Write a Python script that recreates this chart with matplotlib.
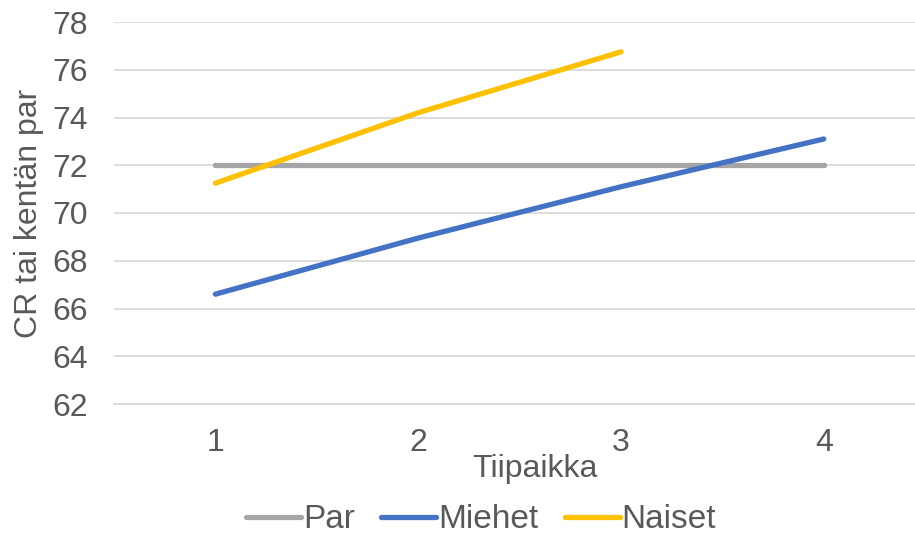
import numpy as np
import matplotlib.pyplot as plt

# Data
tee_positions = [1, 2, 3, 4]
par = [72, 72, 72, 72]
miehet = [66.6, 68.95, 71.1, 73.1]
naiset = [71.25, 74.2, 76.75]

# Style
text_color = '#595959'
plt.rcParams['font.family'] = ['Liberation Sans', 'DejaVu Sans']
plt.rcParams['font.size'] = 23

fig = plt.figure(figsize=(9.15, 5.35), dpi=100)
ax = fig.add_axes([114 / 915, 1 - 404 / 535, 1 - 114 / 915, (404 - 22) / 535])

lw = 3.8
ax.plot(tee_positions, par, color='#A5A5A5', lw=lw, solid_capstyle='round', label='Par', zorder=3)
ax.plot(tee_positions, miehet, color='#4472C4', lw=lw, solid_capstyle='round', label='Miehet', zorder=4)
ax.plot(tee_positions[:len(naiset)], naiset, color='#FFC000', lw=lw, solid_capstyle='round', label='Naiset', zorder=5)

ax.set_xlim(0.5, 4.45)
ax.set_ylim(62, 78)
ax.set_yticks(np.arange(62, 79, 2))
ax.set_xticks(tee_positions)

ax.grid(axis='y', color='#D9D9D9', lw=1.3)
ax.set_axisbelow(True)
for side in ['top', 'right', 'left']:
    ax.spines[side].set_visible(False)
ax.spines['bottom'].set_color('#D9D9D9')
ax.spines['bottom'].set_linewidth(1.3)

ax.tick_params(axis='both', length=0, colors=text_color)
ax.tick_params(axis='y', pad=19)
ax.tick_params(axis='x', pad=17)

ax.set_xlabel('Tiipaikka', color=text_color, labelpad=0)
ax.xaxis.set_label_coords(0.526, -0.13)
ax.set_ylabel('CR tai kentän par', color=text_color, labelpad=6)

fig.legend(loc='center', bbox_to_anchor=(481 / 915, 1 - 520 / 535), ncol=3, frameon=False,
           fontsize=24, handlelength=1.65, handletextpad=0.05, columnspacing=0.8,
           labelcolor=text_color)

fig.savefig('out.png', dpi=100)
